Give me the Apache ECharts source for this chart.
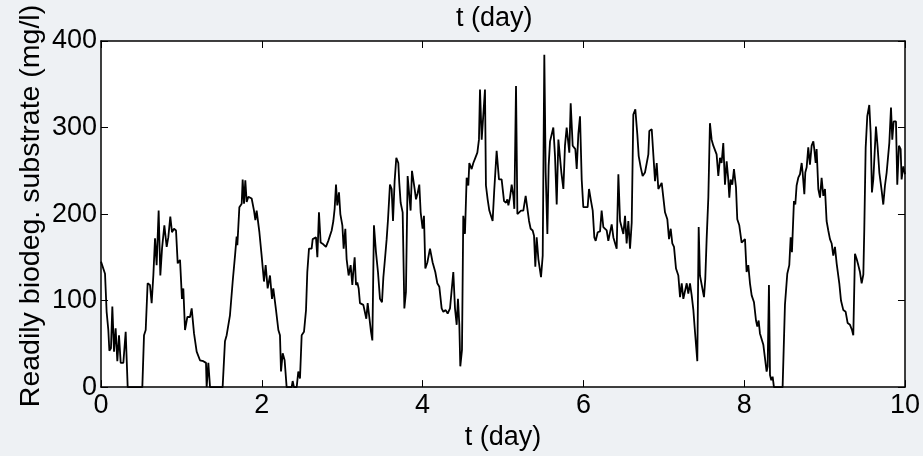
<!DOCTYPE html>
<html><head><meta charset="utf-8">
<script src="https://cdn.jsdelivr.net/npm/echarts@6/dist/echarts.min.js"></script>
<style>html,body{margin:0;padding:0;background:#eef1f4}#c{width:923px;height:456px}</style>
</head><body><div id="c"></div>
<script>
// time (day) and readily biodegradable substrate (mg/l)
const tA = [0,0.05,0.07,0.091,0.104,0.124,0.141,0.162,0.182,0.203,
0.224,0.245,0.278,0.307,0.332,0.514,0.535,0.556,0.58,0.609,
0.63,0.651,0.672,0.692,0.717,0.738,0.759,0.788,0.817,0.837,
0.862,0.883,0.908,0.933,0.954,0.983,1.007,1.024,1.045,1.074,
1.107,1.128,1.157,1.19,1.231,1.273,1.306,1.314,1.335,1.356,
1.513,1.542,1.563,1.604,1.638,1.667,1.687,1.696,1.721,1.75,
1.762,1.779,1.795,1.812,1.833,1.874,1.903,1.92,1.936,1.97,
1.998,2.027,2.048,2.073,2.102,2.127,2.143,2.177,2.206,2.226,
2.239,2.26,2.284,2.309,2.371,2.384,2.4,2.434,2.454,2.475];
const sA = [145,131,87,66,42,45,93,41,68,30,
60,28,28,64,0,0,60,66,120,118,
97,129,172,141,204,129,160,187,162,173,
197,179,183,181,143,147,102,114,66,81,
81,91,62,41,31,30,28,0,28,0,
0,53,60,83,122,152,174,164,208,212,
240,212,239,214,220,218,204,193,204,179,
152,122,141,114,129,102,114,89,66,60,
18,39,31,0,0,7,0,0,18,10];
const tB = [2.496,2.525,2.55,2.566,2.587,2.62,2.633,2.657,2.674,2.691,
2.711,2.732,2.765,2.798,2.827,2.869,2.89,2.906,2.923,2.939,
2.96,2.977,3.002,3.018,3.039,3.055,3.08,3.105,3.126,3.138,
3.155,3.172,3.188,3.205,3.221,3.263,3.283,3.3,3.317,3.337,
3.358,3.375,3.395,3.42,3.445,3.47,3.495,3.512,3.532,3.553,
3.57,3.594,3.615,3.632,3.652,3.673,3.698,3.71,3.727,3.752,
3.773,3.793,3.814,3.835,3.851,3.868,3.885,3.901,3.918,3.938,
3.959,3.976,4.0,4.017,4.034,4.059,4.092,4.125,4.158,4.183,
4.208,4.237,4.258,4.287,4.312,4.341,4.361,4.382,4.403,4.424,
4.44,4.457,4.469,4.49,4.506,4.527,4.548,4.569,4.581,4.61,
4.631,4.656,4.681,4.701,4.714,4.735,4.755,4.776,4.788,4.809,
4.83,4.851,4.871,4.892,4.921,4.95,4.983];
const sB = [60,64,89,133,160,160,171,169,173,150,
202,167,165,162,169,181,192,206,234,210,
225,200,187,160,183,148,129,141,118,133,
150,118,121,114,97,95,97,79,97,81,
64,54,187,156,133,102,98,127,148,171,
194,234,229,192,238,265,259,236,213,202,
91,110,244,246,204,250,252,229,217,224,
234,202,183,198,137,144,160,144,133,120,
116,91,87,89,85,91,91,133,91,72,
102,72,24,43,198,177,242,233,259,252,
259,265,271,286,344,286,284,344,233,217,
204,202,192,229,273,240,240];
const tC = [5.013,5.038,5.054,5.067,5.087,5.108,5.129,5.141,5.162,5.179,
5.203,5.224,5.253,5.282,5.303,5.324,5.344,5.369,5.386,5.402,
5.419,5.44,5.461,5.473,5.494,5.514,5.531,5.552,5.568,5.585,
5.606,5.626,5.647,5.668,5.689,5.709,5.726,5.751,5.771,5.792,
5.813,5.825,5.842,5.867,5.9,5.917,5.937,5.958,5.979,5.999,
6.053,6.07,6.095,6.116,6.136,6.153,6.178,6.207,6.227,6.248,
6.269,6.29,6.31,6.331,6.352,6.373,6.393,6.414,6.435,6.456,
6.476,6.497,6.518,6.538,6.559,6.58,6.601,6.621,6.646,6.671,
6.688,6.713,6.737,6.766,6.787,6.808,6.82,6.85,6.87,6.891,
6.912,6.932,6.953,6.974,6.995,7.015,7.044,7.065,7.086,7.106,
7.127,7.152,7.181,7.202,7.223,7.243,7.264,7.285,7.305,7.326,
7.347,7.368,7.388,7.417,7.434,7.45,7.471];
const sC = [215,213,217,210,219,234,221,206,348,200,
198,204,204,221,219,192,183,181,175,139,
173,148,146,127,152,384,248,177,256,284,
286,300,267,211,286,288,248,229,279,300,
300,271,328,279,275,252,292,313,240,208,
208,229,215,204,173,169,179,180,204,185,
187,181,169,171,188,173,171,160,246,192,
192,177,198,166,192,160,190,315,321,292,
267,254,244,248,250,269,296,298,296,238,
259,229,229,236,236,202,194,171,183,166,
162,137,129,104,120,102,102,120,108,120,
106,89,64,30,185,129,127];
const tD = [7.5,7.516,7.533,7.554,7.574,7.595,7.616,7.637,7.657,7.678,
7.699,7.719,7.74,7.761,7.782,7.802,7.815,7.831,7.852,7.873,
7.898,7.914,7.939,7.968,7.989,8.01,8.03,8.051,8.072,8.093,
8.122,8.147,8.163,8.18,8.196,8.217,8.238,8.258,8.279,8.292,
8.308,8.321,8.337,8.354,8.37,8.478,8.507,8.536,8.561,8.578,
8.594,8.619,8.636,8.652,8.673,8.694,8.715,8.727,8.748,8.76,
8.777,8.797,8.818,8.839,8.86,8.872,8.889,8.901,8.922,8.943,
8.963,8.984,9.005,9.025,9.046,9.067,9.088,9.108,9.129,9.15,
9.183,9.204,9.233,9.262,9.287,9.316,9.341,9.357,9.378,9.399,
9.419,9.44,9.461,9.482,9.494,9.511,9.531,9.556,9.573,9.589,
9.606,9.627,9.639,9.66,9.681,9.71,9.73,9.751,9.772,9.792,
9.805,9.826,9.842,9.859,9.888,9.904,9.925,9.946,9.958,9.979,
10.0];
const sD = [104,125,171,219,305,286,279,279,269,244,
265,259,282,234,261,240,219,240,234,252,
231,194,187,167,165,171,133,141,120,106,
98,77,70,77,62,62,49,49,18,24,
118,14,8,12,0,0,95,131,141,173,
156,215,211,233,242,246,259,248,223,248,
254,277,257,279,284,275,259,275,229,219,
242,221,229,192,181,171,166,152,162,143,
120,100,89,87,74,72,66,60,154,148,
141,133,120,130,183,277,313,326,294,225,
240,279,301,277,248,227,211,233,248,246,
282,323,286,307,307,234,279,275,240,255,
246];
const xTicks = [0, 2, 4, 6, 8, 10];
const yTicks = [0, 100, 200, 300, 400];
const xTitle = 't (day)';
const yTitle = 'Readily biodeg. substrate (mg/l)';

const tAll = tA.concat(tB, tC, tD);
const sAll = sA.concat(sB, sC, sD);
const data = tAll.map((t, i) => [t, sAll[i]]);

const FONT = 'Liberation Sans, Arial, Helvetica, sans-serif';
const FS = 27;
const black = '#000';

function xAx(pos, labels) {
  return {
    type: 'value', position: pos,
    min: xTicks[0], max: xTicks[xTicks.length - 1], interval: xTicks[1] - xTicks[0],
    axisLine: { show: true, onZero: false, lineStyle: { color: black, width: 1.5 } },
    axisTick: { show: true, inside: true, length: 7, lineStyle: { color: black, width: 1 } },
    axisLabel: { show: labels, color: black, fontSize: FS, fontFamily: FONT, margin: 5 },
    splitLine: { show: false },
    name: labels ? xTitle : '', nameLocation: 'middle', nameGap: 35,
    nameTextStyle: { color: black, fontSize: FS, fontFamily: FONT }
  };
}
function yAx(pos, labels) {
  return {
    type: 'value', position: pos,
    min: yTicks[0], max: yTicks[yTicks.length - 1], interval: yTicks[1] - yTicks[0],
    axisLine: { show: true, onZero: false, lineStyle: { color: black, width: 1.5 } },
    axisTick: { show: true, inside: true, length: 7, lineStyle: { color: black, width: 1 } },
    axisLabel: { show: labels, color: black, fontSize: FS, fontFamily: FONT, margin: 4 },
    splitLine: { show: false }
  };
}

const chart = echarts.init(document.getElementById('c'), null, { renderer: 'canvas' });
chart.setOption({
  animation: false,
  backgroundColor: '#eef1f4',
  grid: { left: 101, right: 18, top: 41, bottom: 67, show: true, backgroundColor: '#fff', borderWidth: 0 },
  xAxis: [xAx('bottom', true), xAx('top', false)],
  yAxis: [yAx('left', true), yAx('right', false)],
  graphic: [
    { type: 'text', left: 456, top: 5, style: { text: xTitle, fill: black, font: FS + 'px ' + FONT } },
    { type: 'text', x: 31, y: 206, rotation: Math.PI / 2,
      style: { text: yTitle, fill: black, font: '28.5px ' + FONT, align: 'center', verticalAlign: 'middle' } }
  ],
  series: [{
    type: 'line', xAxisIndex: 0, yAxisIndex: 0, data: data,
    showSymbol: false, symbol: 'none', clip: true,
    lineStyle: { color: black, width: 1.8 }
  }]
});
</script></body></html>
